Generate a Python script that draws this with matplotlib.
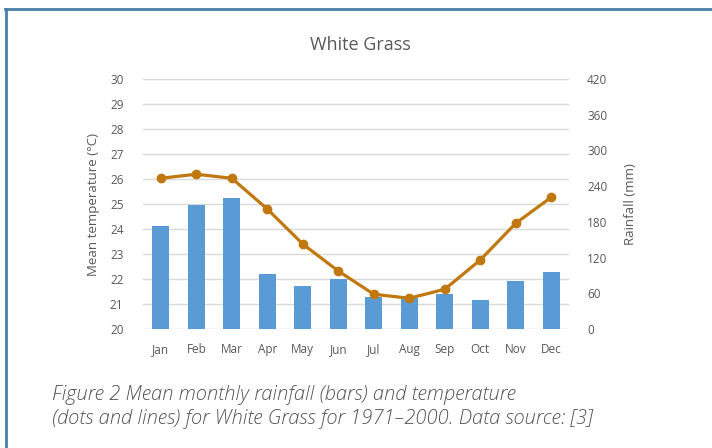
import matplotlib
matplotlib.use("Agg")
import matplotlib.pyplot as plt
import numpy as np

months = ["Jan", "Feb", "Mar", "Apr", "May", "Jun", "Jul", "Aug", "Sep", "Oct", "Nov", "Dec"]
rainfall_mm = [173, 209, 220, 92, 73, 84, 53, 52, 58, 49, 81, 96]
temperature_c = [26.03, 26.19, 26.03, 24.8, 23.4, 22.32, 21.39, 21.23, 21.59, 22.76, 24.23, 25.27]
temp_ticks = list(range(20, 31))
rain_ticks = list(range(0, 421, 60))

TEXT = "#595959"
GRID = "#d9d9d9"
BAR = "#5b9bd5"
LINE = "#c0780f"
FRAME = "#4a7fa8"

plt.rcParams["font.family"] = ["Open Sans", "DejaVu Sans"]

fig = plt.figure(figsize=(7.12, 4.48), dpi=100)
fig.patch.set_facecolor("white")

ax = fig.add_axes([143 / 712, 1 - 329 / 448, (569 - 143) / 712, (329 - 79) / 448])
ax2 = ax.twinx()

x = np.arange(len(months))

# Rainfall bars on the right-hand scale
ax2.bar(x, rainfall_mm, width=0.49, color=BAR, zorder=2)
ax2.set_ylim(0, 420)
ax2.set_yticks(rain_ticks)

# Temperature line on the left-hand scale, drawn above the bars
ax.set_zorder(ax2.get_zorder() + 1)
ax.patch.set_visible(False)
ax.plot(x, temperature_c, color=LINE, linewidth=2.3, marker="o", markersize=6,
        markerfacecolor=LINE, markeredgecolor=LINE, zorder=3)
ax.set_ylim(20, 30)
ax.set_yticks(temp_ticks)
ax.set_xlim(-0.5, len(months) - 0.5)
ax.set_xticks(x)
ax.set_xticklabels(months)

# Horizontal gridlines behind everything
for t in temp_ticks:
    ax2.axhline((t - 20) * 42, color=GRID, linewidth=1.0, zorder=0)

for a in (ax, ax2):
    for s in a.spines.values():
        s.set_visible(False)
    a.tick_params(length=0, colors=TEXT, labelsize=8.5)
ax.tick_params(axis="y", pad=14)
ax.tick_params(axis="x", pad=10)
ax2.tick_params(axis="y", pad=13)

ax.set_ylabel("Mean temperature (°C)", color=TEXT, fontsize=9.5, labelpad=7)
ax2.set_ylabel("Rainfall (mm)", color=TEXT, fontsize=9.5, labelpad=12)

fig.text(360 / 712, 1 - 45 / 448, "White Grass", ha="center", va="center",
         fontsize=13, color=TEXT)

caption = ("Figure 2 Mean monthly rainfall (bars) and temperature\n"
           "(dots and lines) for White Grass for 1971\u20132000. Data source: [3]")
fig.text(52 / 712, 1 - 407 / 448, caption, ha="left", va="center", fontsize=14.5,
         style="italic", color="#555555", linespacing=1.25,
         family=["Open Sans", "DejaVu Sans"], fontweight="light")

# Frame lines along the top and left edge
fig.add_artist(plt.Line2D([5 / 712, 1.0], [1 - 9 / 448, 1 - 9 / 448],
                          transform=fig.transFigure, color=FRAME, linewidth=2))
fig.add_artist(plt.Line2D([6 / 712, 6 / 712], [0.0, 1 - 9 / 448],
                          transform=fig.transFigure, color=FRAME, linewidth=2))

fig.savefig("out.png", dpi=100, facecolor="white")
